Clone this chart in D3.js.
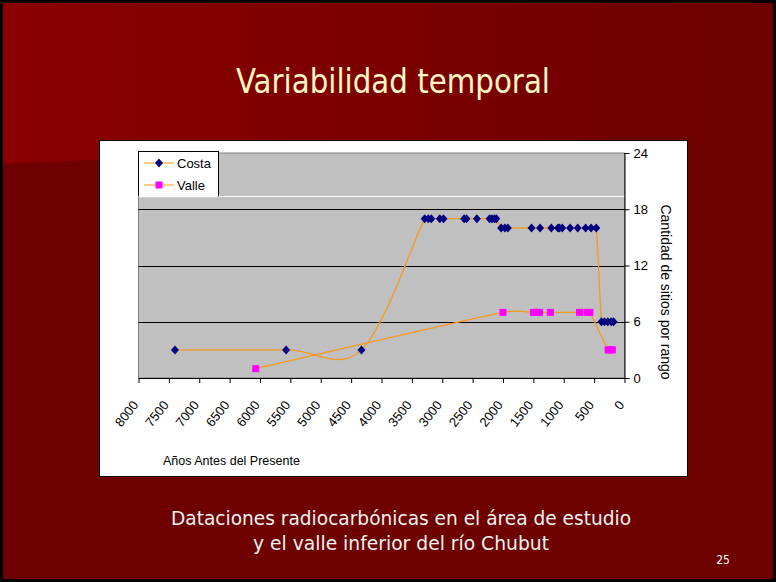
<!DOCTYPE html>
<html>
<head>
<meta charset="utf-8">
<script src="https://cdn.jsdelivr.net/npm/d3@7"></script>
<style>
  html, body { margin: 0; padding: 0; background: #6e0000; }
  svg { display: block; }
</style>
</head>
<body>
<svg id="chart" width="776" height="582"></svg>
<script>
// ---- data ----
const costaYears  = [7400, 5570, 4330, 3290, 3230, 3180, 3040, 2980, 2640, 2600, 2430, 2220, 2180, 2140, 2110,
                     2030, 1970, 1920, 1530, 1390, 1205, 1095, 1070, 1025, 895, 770, 640, 550, 465,
                     380, 330, 275, 220, 180];
const costaCounts = [3, 3, 3, 17, 17, 17, 17, 17, 17, 17, 17, 17, 17, 17, 17,
                     16, 16, 16, 16, 16, 16, 16, 16, 16, 16, 16, 16, 16, 16,
                     6, 6, 6, 6, 6];
const valleYears  = [6070, 2000, 1500, 1450, 1400, 1220, 740, 615, 570, 270, 240, 200];
const valleCounts = [1, 7, 7, 7, 7, 7, 7, 7, 7, 3, 3, 3];
const seriesNames = ["Costa", "Valle"];
const xTicks = [8000, 7500, 7000, 6500, 6000, 5500, 5000, 4500, 4000, 3500, 3000, 2500, 2000, 1500, 1000, 500, 0];
const yTicks = [0, 6, 12, 18, 24];
const titleText = "Variabilidad temporal";
const subtitleLines = ["Dataciones radiocarbónicas en el área de estudio", "y el valle inferior del río Chubut"];
const xTitle = "Años Antes del Presente";
const yTitle = "Cantidad de sitios por rango";
const pageNumber = "25";

const svg = d3.select("#chart");
const W = 776, H = 582;

// ---- slide background ----
const defs = svg.append("defs");
const grad = defs.append("linearGradient").attr("id", "topGrad")
  .attr("x1", "0%").attr("x2", "100%").attr("y1", "0%").attr("y2", "0%");
grad.append("stop").attr("offset", "0%").attr("stop-color", "#8a0000");
grad.append("stop").attr("offset", "100%").attr("stop-color", "#6d0000");

svg.append("rect").attr("x", 0).attr("y", 0).attr("width", W).attr("height", H).attr("fill", "#6e0000");
svg.append("path").attr("d", "M0,0 L776,0 L776,130 L0,164 Z").attr("fill", "url(#topGrad)");
svg.append("rect").attr("x", 1.5).attr("y", 1.5).attr("width", W - 3).attr("height", H - 3)
  .attr("fill", "none").attr("stroke", "#000").attr("stroke-width", 3);

// title
svg.append("text").attr("x", 393).attr("y", 93)
  .attr("text-anchor", "middle")
  .attr("font-family", "'DejaVu Sans Condensed', 'DejaVu Sans', sans-serif")
  .attr("font-size", 34).attr("fill", "#fff6c4")
  .attr("textLength", 314).attr("lengthAdjust", "spacingAndGlyphs")
  .text(titleText);

// subtitle
const subLens = [460, 296];
subtitleLines.forEach((t, i) => {
  svg.append("text").attr("x", 401).attr("y", 525 + i * 25)
    .attr("text-anchor", "middle")
    .attr("font-family", "'DejaVu Sans Condensed', 'DejaVu Sans', sans-serif")
    .attr("font-size", 19.5).attr("fill", "#f2f2f2")
    .attr("textLength", subLens[i]).attr("lengthAdjust", "spacingAndGlyphs")
    .text(t);
});
svg.append("text").attr("x", 723).attr("y", 564)
  .attr("text-anchor", "middle")
  .attr("font-family", "'DejaVu Sans Condensed', 'DejaVu Sans', sans-serif")
  .attr("font-size", 12).attr("fill", "#ffffff")
  .text(pageNumber);

// ---- chart box ----
svg.append("rect").attr("x", 99.5).attr("y", 140.5).attr("width", 588).attr("height", 336)
  .attr("fill", "#ffffff").attr("stroke", "#000").attr("stroke-width", 1);

const pLeft = 138.5, pRight = 624.5, pTop = 153, pBottom = 378;
const x = d3.scaleLinear().domain([8000, 0]).range([pLeft, pRight]);
const y = d3.scaleLinear().domain([0, 24]).range([pBottom, pTop]);

// plot area
svg.append("rect").attr("x", pLeft).attr("y", pTop).attr("width", pRight - pLeft).attr("height", pBottom - pTop)
  .attr("fill", "#c0c0c0").attr("stroke", "#808080").attr("stroke-width", 1);

// white line across the plot
svg.append("line").attr("x1", pLeft).attr("x2", pRight).attr("y1", 196.5).attr("y2", 196.5)
  .attr("stroke", "#ffffff").attr("stroke-width", 1);

// gridlines
svg.append("g").selectAll("line").data(yTicks.filter(d => d > 0 && d < 24)).join("line")
  .attr("x1", pLeft).attr("x2", pRight)
  .attr("y1", d => Math.round(y(d)) + 0.5).attr("y2", d => Math.round(y(d)) + 0.5)
  .attr("stroke", "#000").attr("stroke-width", 1);

// x axis
const xAxis = d3.axisBottom(x).tickValues(xTicks).tickSize(5).tickSizeOuter(0).tickFormat(d3.format("d"));
const gx = svg.append("g").attr("transform", `translate(0,${pBottom})`).call(xAxis);
gx.select(".domain").attr("stroke", "#000");
gx.selectAll(".tick line").attr("stroke", "#000");
gx.selectAll(".tick text")
  .attr("font-family", "'Liberation Sans', Arial, sans-serif")
  .attr("font-size", 13).attr("fill", "#000")
  .attr("text-anchor", "end")
  .attr("dy", null).attr("y", null)
  .attr("transform", "translate(0,27) rotate(-52)");

// y axis (right)
const yAxis = d3.axisRight(y).tickValues(yTicks).tickSize(5).tickSizeOuter(0).tickFormat(d3.format("d"));
const gy = svg.append("g").attr("transform", `translate(${pRight},0)`).call(yAxis);
gy.select(".domain").attr("stroke", "#000");
gy.selectAll(".tick line").attr("stroke", "#000");
gy.selectAll(".tick text")
  .attr("font-family", "'Liberation Sans', Arial, sans-serif")
  .attr("font-size", 13).attr("fill", "#000").attr("x", 9);

// axis titles
svg.append("text").attr("x", 163).attr("y", 465)
  .attr("font-family", "'Liberation Sans', Arial, sans-serif")
  .attr("font-size", 12.5).attr("fill", "#000").text(xTitle);
svg.append("text")
  .attr("transform", "translate(661,292) rotate(90)")
  .attr("text-anchor", "middle")
  .attr("font-family", "'Liberation Sans', Arial, sans-serif")
  .attr("font-size", 14).attr("fill", "#000").text(yTitle);

// ---- series ----
const lineColor = "#f59a1e";
const costa = costaYears.map((v, i) => [v, costaCounts[i]]);
const valle = valleYears.map((v, i) => [v, valleCounts[i]]);

// spreadsheet-style smoothed line: Bezier with tangent/6 control offsets,
// capped at half the adjacent segment length
function smoothPath(data) {
  const P = data.map(d => [x(d[0]), y(d[1])]);
  const n = P.length;
  const p = d3.path();
  p.moveTo(P[0][0], P[0][1]);
  const tan = i => {
    const a = P[Math.max(0, i - 1)], b = P[Math.min(n - 1, i + 1)];
    return [(b[0] - a[0]) / 6, (b[1] - a[1]) / 6];
  };
  const dist = (a, b) => Math.hypot(b[0] - a[0], b[1] - a[1]);
  const capped = (t, lim) => {
    const L = Math.hypot(t[0], t[1]);
    if (L === 0 || L <= lim) return t;
    return [t[0] * lim / L, t[1] * lim / L];
  };
  for (let i = 0; i < n - 1; i++) {
    const a = P[i], b = P[i + 1];
    const seg = dist(a, b) / 2;
    const t0 = capped(tan(i), seg), t1 = capped(tan(i + 1), seg);
    p.bezierCurveTo(a[0] + t0[0], a[1] + t0[1], b[0] - t1[0], b[1] - t1[1], b[0], b[1]);
  }
  return p.toString();
}

svg.append("path").attr("d", smoothPath(costa)).attr("fill", "none")
  .attr("stroke", lineColor).attr("stroke-width", 1.3);
svg.append("path").attr("d", smoothPath(valle)).attr("fill", "none")
  .attr("stroke", lineColor).attr("stroke-width", 1.3);

// diamond marker, 8 wide x 9 tall
const diamondType = {
  draw(ctx, size) {
    const w = 4, h = 4.5;
    ctx.moveTo(0, -h); ctx.lineTo(w, 0); ctx.lineTo(0, h); ctx.lineTo(-w, 0); ctx.closePath();
  }
};
const diamond = d3.symbol().type(diamondType).size(36);
svg.append("g").selectAll("path").data(costa).join("path")
  .attr("d", diamond)
  .attr("transform", d => `translate(${x(d[0])},${y(d[1])})`)
  .attr("fill", "#000080");
svg.append("g").selectAll("rect").data(valle).join("rect")
  .attr("x", d => x(d[0]) - 3.5).attr("y", d => y(d[1]) - 3.5)
  .attr("width", 7).attr("height", 7)
  .attr("fill", "#ff00ff");

// ---- legend ----
const lg = svg.append("g");
lg.append("rect").attr("x", 138.5).attr("y", 151.5).attr("width", 80).attr("height", 45)
  .attr("fill", "#ffffff").attr("stroke", "#000").attr("stroke-width", 1);
lg.append("line").attr("x1", 138.5).attr("x2", 218.5).attr("y1", 196.5).attr("y2", 196.5)
  .attr("stroke", "#ffffff").attr("stroke-width", 1.5);
seriesNames.forEach((name, i) => {
  const cy = 163 + i * 22;
  lg.append("line").attr("x1", 144).attr("x2", 174).attr("y1", cy).attr("y2", cy)
    .attr("stroke", "#ffbe5c").attr("stroke-width", 1.5);
  if (i === 0) {
    lg.append("path").attr("d", diamond).attr("transform", `translate(159,${cy})`).attr("fill", "#000080");
  } else {
    lg.append("rect").attr("x", 155.5).attr("y", cy - 3.5).attr("width", 7).attr("height", 7).attr("fill", "#ff00ff");
  }
  lg.append("text").attr("x", 177).attr("y", cy + 4.5)
    .attr("font-family", "'Liberation Sans', Arial, sans-serif")
    .attr("font-size", 13).attr("fill", "#000").text(name);
});
</script>
</body>
</html>
